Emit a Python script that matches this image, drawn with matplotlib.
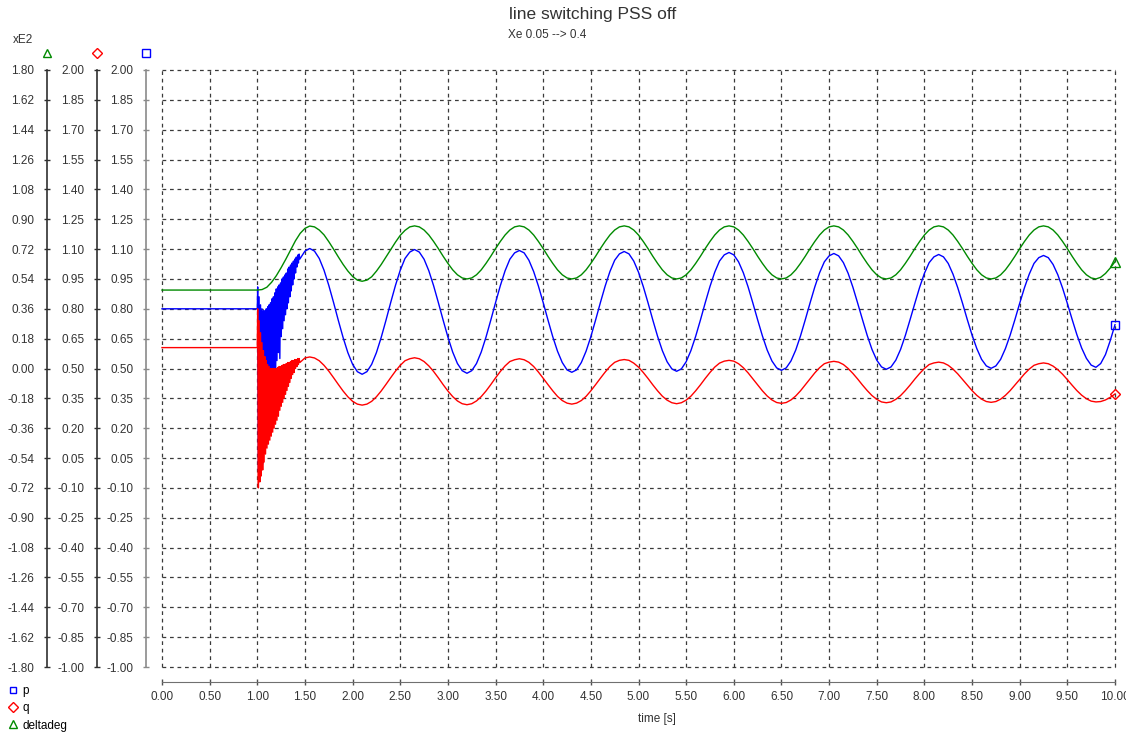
import numpy as np
import matplotlib
matplotlib.use('Agg')
from matplotlib import pyplot as plt
from matplotlib.lines import Line2D
from matplotlib.ticker import FuncFormatter

plt.rcParams['font.family'] = ['Liberation Sans', 'DejaVu Sans']

# ---- data ----
# steady state before the switching at t = 1 s
t_pre = [0.0, 1.0]
p_pre = [0.80, 0.80]
q_pre = [0.605, 0.605]
delta_pre = [47.3]

# fast oscillation right after switching: upper and lower swings,
# read every 15 ms from 1.004 s (upper) and 1.0115 s (lower)
t_hi = 1.004 + 0.015 * np.arange(30)
t_lo = 1.0115 + 0.015 * np.arange(30)
p_hi = [0.91, 0.86, 0.82, 0.80, 0.79, 0.79, 0.80, 0.81, 0.82, 0.83,
        0.85, 0.86, 0.88, 0.90, 0.91, 0.92, 0.93, 0.95, 0.96, 0.97,
        0.98, 1.00, 1.01, 1.02, 1.03, 1.04, 1.05, 1.06, 1.07, 1.075]
p_lo = [-0.01, 0.00, 0.04, 0.02, 0.11, 0.17, 0.12, 0.27, 0.31, 0.26,
        0.42, 0.46, 0.40, 0.54, 0.58, 0.55, 0.66, 0.70, 0.74, 0.77,
        0.80, 0.83, 0.86, 0.89, 0.92, 0.95, 0.98, 1.01, 1.03, 1.05]
q_hi = [0.80, 0.74, 0.68, 0.63, 0.59, 0.56, 0.54, 0.52, 0.51, 0.50,
        0.50, 0.50, 0.50, 0.50, 0.505, 0.51, 0.51, 0.515, 0.52, 0.52,
        0.525, 0.53, 0.53, 0.535, 0.54, 0.54, 0.545, 0.545, 0.55, 0.55]
q_lo = [-0.10, -0.07, -0.04, -0.01, 0.03, 0.07, 0.10, 0.12, 0.14, 0.16,
        0.18, 0.20, 0.22, 0.24, 0.26, 0.29, 0.31, 0.33, 0.35, 0.37,
        0.39, 0.41, 0.43, 0.45, 0.47, 0.48, 0.50, 0.51, 0.52, 0.53]

# slow swing, read every 0.05 s from 1.50 s to 10.00 s (one row per swing)
t_slow = np.arange(30, 201) / 20
p_slow = [
    1.090, 1.103, 1.090, 1.053, 0.994, 0.918, 0.832, 0.742, 0.656, 0.580, 0.521,
    0.484, 0.471, 0.484, 0.521, 0.580, 0.656, 0.742, 0.832, 0.918, 0.994, 1.053,
    1.085, 1.098, 1.085, 1.049, 0.991, 0.916, 0.831, 0.743, 0.658, 0.583, 0.525,
    0.489, 0.476, 0.489, 0.525, 0.583, 0.658, 0.743, 0.831, 0.916, 0.991, 1.049,
    1.081, 1.093, 1.081, 1.044, 0.987, 0.914, 0.831, 0.744, 0.660, 0.587, 0.530,
    0.493, 0.481, 0.493, 0.530, 0.587, 0.660, 0.744, 0.831, 0.914, 0.987, 1.044,
    1.076, 1.088, 1.076, 1.040, 0.984, 0.912, 0.830, 0.744, 0.662, 0.590, 0.534,
    0.498, 0.486, 0.498, 0.534, 0.590, 0.662, 0.744, 0.830, 0.912, 0.984, 1.040,
    1.071, 1.083, 1.071, 1.036, 0.981, 0.910, 0.829, 0.745, 0.664, 0.593, 0.538,
    0.503, 0.491, 0.503, 0.538, 0.593, 0.664, 0.745, 0.829, 0.910, 0.981, 1.036,
    1.066, 1.078, 1.066, 1.032, 0.978, 0.908, 0.828, 0.746, 0.666, 0.596, 0.542,
    0.508, 0.496, 0.508, 0.542, 0.596, 0.666, 0.746, 0.828, 0.908, 0.978, 1.032,
    1.061, 1.073, 1.061, 1.028, 0.974, 0.906, 0.828, 0.746, 0.668, 0.600, 0.546,
    0.513, 0.501, 0.513, 0.546, 0.600, 0.668, 0.746, 0.828, 0.906, 0.974, 1.028,
    1.057, 1.068, 1.057, 1.023, 0.971, 0.904, 0.827, 0.747, 0.670, 0.603, 0.551,
    0.517, 0.506, 0.525, 0.570, 0.640, 0.720]
q_slow = [
    0.553, 0.558, 0.553, 0.539, 0.516, 0.487, 0.454, 0.420, 0.387, 0.358, 0.335,
    0.321, 0.316, 0.321, 0.335, 0.358, 0.387, 0.420, 0.454, 0.487, 0.516, 0.539,
    0.549, 0.554, 0.549, 0.535, 0.513, 0.485, 0.453, 0.419, 0.387, 0.359, 0.337,
    0.323, 0.318, 0.323, 0.337, 0.359, 0.387, 0.419, 0.453, 0.485, 0.513, 0.535,
    0.544, 0.549, 0.544, 0.531, 0.510, 0.482, 0.451, 0.419, 0.388, 0.360, 0.339,
    0.326, 0.321, 0.326, 0.339, 0.360, 0.388, 0.419, 0.451, 0.482, 0.510, 0.531,
    0.541, 0.545, 0.541, 0.527, 0.507, 0.480, 0.450, 0.418, 0.388, 0.361, 0.341,
    0.328, 0.323, 0.328, 0.341, 0.361, 0.388, 0.418, 0.450, 0.480, 0.507, 0.527,
    0.537, 0.541, 0.537, 0.524, 0.504, 0.478, 0.448, 0.418, 0.388, 0.362, 0.342,
    0.329, 0.325, 0.329, 0.342, 0.362, 0.388, 0.418, 0.448, 0.478, 0.504, 0.524,
    0.532, 0.536, 0.532, 0.520, 0.500, 0.475, 0.447, 0.417, 0.389, 0.364, 0.345,
    0.332, 0.328, 0.332, 0.345, 0.364, 0.389, 0.417, 0.447, 0.475, 0.500, 0.520,
    0.528, 0.532, 0.528, 0.516, 0.497, 0.473, 0.445, 0.417, 0.389, 0.365, 0.346,
    0.334, 0.330, 0.334, 0.346, 0.365, 0.389, 0.417, 0.445, 0.473, 0.497, 0.516,
    0.524, 0.528, 0.524, 0.512, 0.494, 0.471, 0.444, 0.416, 0.389, 0.366, 0.348,
    0.336, 0.332, 0.334, 0.342, 0.355, 0.372]

# rotor angle in degrees, read every 0.05 s from 1.00 s to 10.00 s
t_delta = np.arange(20, 201) / 20
deltadeg = [
    47.3, 47.6, 49.0, 52.0, 56.0, 60.8, 66.0, 71.5, 77.0, 81.5,
    84.5, 85.9, 85.4, 83.5, 80.6, 76.5, 72.0, 67.3, 62.8, 58.8, 55.5,
    53.3, 52.6, 53.3, 55.3, 58.7, 62.7, 67.2, 71.8, 76.2, 80.3, 83.3,
    85.4, 86.0, 85.4, 83.5, 80.5, 76.6, 72.3, 67.7, 63.4, 59.5, 56.5,
    54.6, 54.0, 54.6, 56.5, 59.5, 63.4, 67.7, 72.3, 76.6, 80.5, 83.5,
    85.4, 86.0, 85.4, 83.5, 80.5, 76.6, 72.3, 67.7, 63.4, 59.5, 56.5,
    54.6, 54.0, 54.6, 56.5, 59.5, 63.4, 67.7, 72.3, 76.6, 80.5, 83.5,
    85.4, 86.0, 85.4, 83.5, 80.5, 76.6, 72.3, 67.7, 63.4, 59.5, 56.5,
    54.6, 54.0, 54.6, 56.5, 59.5, 63.4, 67.7, 72.3, 76.6, 80.5, 83.5,
    85.4, 86.0, 85.4, 83.5, 80.5, 76.6, 72.3, 67.7, 63.4, 59.5, 56.5,
    54.6, 54.0, 54.6, 56.5, 59.5, 63.4, 67.7, 72.3, 76.6, 80.5, 83.5,
    85.4, 86.0, 85.4, 83.5, 80.5, 76.6, 72.3, 67.7, 63.4, 59.5, 56.5,
    54.6, 54.0, 54.6, 56.5, 59.5, 63.4, 67.7, 72.3, 76.6, 80.5, 83.5,
    85.4, 86.0, 85.4, 83.5, 80.5, 76.6, 72.3, 67.7, 63.4, 59.5, 56.5,
    54.6, 54.0, 54.6, 56.5, 59.5, 63.4, 67.7, 72.3, 76.6, 80.5, 83.5,
    85.4, 86.0, 85.4, 83.5, 80.5, 76.6, 72.3, 67.7, 63.4, 59.5, 56.5,
    54.6, 54.0, 55.0, 57.3, 60.6, 64.4]


def swing(hi_t, hi, lo_t, lo):
    # alternate upper and lower swings in time order
    t = np.empty(2 * len(hi_t))
    v = np.empty(2 * len(hi))
    t[0::2], t[1::2] = hi_t, lo_t
    v[0::2], v[1::2] = hi, lo
    return t, v


p_tr_t, p_tr = swing(t_hi, p_hi, t_lo, p_lo)
q_tr_t, q_tr = swing(t_hi, q_hi, t_lo, q_lo)

p_t = np.concatenate([t_pre, p_tr_t, t_slow])
p = np.concatenate([p_pre, p_tr, p_slow])
q_t = np.concatenate([t_pre, q_tr_t, t_slow])
q = np.concatenate([q_pre, q_tr, q_slow])
d_t = np.concatenate([t_pre[:1], t_delta])
d = np.concatenate([delta_pre, deltadeg])

W, H = 1126, 736
PX = 72 / 100  # points per pixel

fig = plt.figure(figsize=(W / 100, H / 100), dpi=100)
ax = fig.add_axes([162 / W, 1 - 667 / H, 953 / W, 597 / H])
ax_q = ax.twinx()
ax_d = ax.twinx()

fmt2 = FuncFormatter(lambda v, _: f'{v:.2f}')
for a, off, col in ((ax, 16, '#8a8a8a'), (ax_q, 65, '#303030'), (ax_d, 115, '#303030')):
    for s in a.spines.values():
        s.set_visible(False)
    a.spines['left'].set_visible(True)
    a.spines['left'].set_position(('outward', off * PX))
    a.spines['left'].set_color(col)
    a.spines['left'].set_linewidth(1.2)
    a.yaxis.tick_left()
    a.tick_params(axis='y', direction='inout', length=6 * PX, width=1.0, pad=7,
                  labelsize=8.5, colors=col, labelcolor='#333333')

ax.set_xlim(0, 10)
ax.set_ylim(-1, 2)
ax_q.set_ylim(-1, 2)
ax_d.set_ylim(-180, 180)
ax.set_yticks(np.linspace(-1, 2, 21))
ax_q.set_yticks(np.linspace(-1, 2, 21))
ax_d.set_yticks(np.linspace(-180, 180, 21))
ax.yaxis.set_major_formatter(fmt2)
ax_q.yaxis.set_major_formatter(fmt2)
ax_d.yaxis.set_major_formatter(FuncFormatter(lambda v, _: f'{v / 100:.2f}'))

ax.set_xticks(np.arange(0, 10.01, 0.5))
ax.xaxis.set_major_formatter(fmt2)
ax.spines['bottom'].set_visible(True)
ax.spines['bottom'].set_position(('outward', 15 * PX))
ax.spines['bottom'].set_color('#707070')
ax.tick_params(axis='x', direction='inout', length=6 * PX, width=1.0, pad=4,
               labelsize=8.5, colors='#505050', labelcolor='#333333')

ax.grid(True, ls=(0, (3, 3)), lw=0.9, color='#3a3a3a')
for gl in ax.get_xgridlines() + ax.get_ygridlines():
    gl.set_clip_on(False)

ax.plot(p_t, p, color='#0000ff', lw=1.0, marker='s', markevery=[-1], ms=6,
        mfc='none', clip_on=False)
ax_q.plot(q_t, q, color='#ff0000', lw=1.0, marker='D', markevery=[-1], ms=5.5,
          mfc='none', clip_on=False)
ax_d.plot(d_t, d, color='#008a00', lw=1.0, marker='^', markevery=[-1], ms=6.5,
          mfc='none', clip_on=False)

# axis markers above the three scales
for x, m, c in ((47, '^', '#008a00'), (97, 'D', '#ff0000'), (146, 's', '#0000ff')):
    fig.add_artist(Line2D([x / W], [1 - 53 / H], marker=m, ms=5.5, mfc='none', mec=c,
                          ls='none', transform=fig.transFigure))

fig.text(13 / W, 1 - 40 / H, 'xE2', fontsize=8.5, color='#333333', va='center')
fig.text(593 / W, 1 - 15 / H, 'line switching PSS off', fontsize=12.5,
         ha='center', va='center', color='#333333')
fig.text(508 / W, 1 - 35 / H, 'Xe 0.05 --> 0.4', fontsize=8.5,
         ha='left', va='center', color='#333333')
fig.text(657 / W, 1 - 719 / H, 'time [s]', fontsize=8.5,
         ha='center', va='center', color='#333333')

handles = [Line2D([], [], ls='none', marker='s', ms=5, mfc='none', mec='#0000ff', label='p'),
           Line2D([], [], ls='none', marker='D', ms=5, mfc='none', mec='#ff0000', label='q'),
           Line2D([], [], ls='none', marker='^', ms=5.5, mfc='none', mec='#008a00', label='deltadeg')]
fig.legend(handles=handles, loc='upper left', bbox_to_anchor=(7 / W, 1 - 685 / H),
           frameon=False, fontsize=8.5, handlelength=1.0, handletextpad=0.3,
           labelspacing=0.45, borderpad=0, borderaxespad=0)

fig.savefig('out.png', dpi=100)
